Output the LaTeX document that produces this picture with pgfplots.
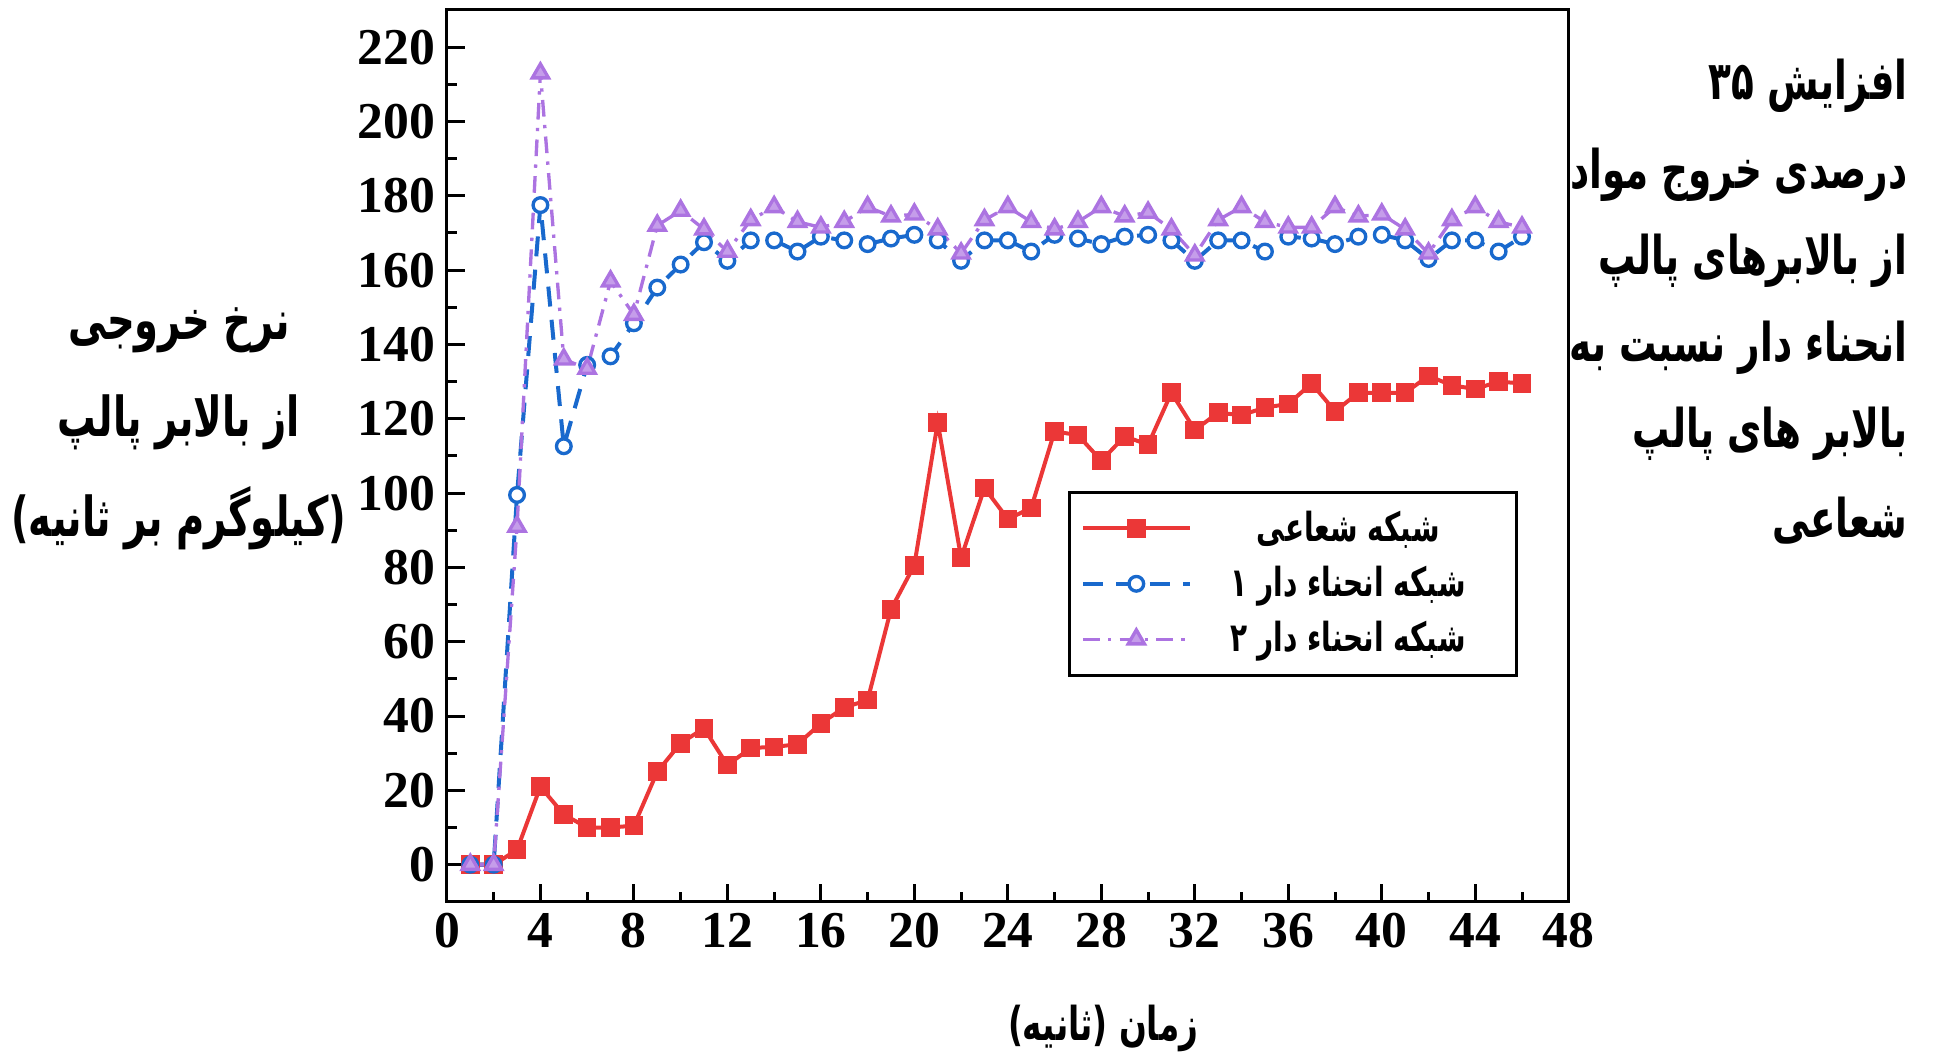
\documentclass[border=0pt]{standalone}
\usepackage{fontspec}
\setmainfont{Liberation Serif}
\usepackage{pgfplots}
\pgfplotsset{compat=1.18}
\TeXXeTstate=1
\newfontfamily\fa[Script=Arabic,FakeStretch=0.7]{DejaVu Sans}
\definecolor{cred}{RGB}{235,55,55}
\definecolor{cblue}{RGB}{25,105,205}
\definecolor{cpurple}{RGB}{172,115,225}
\begin{document}
\begin{tikzpicture}
\useasboundingbox (0,0) rectangle (580pt,318.9pt);
\begin{axis}[
 at={(134.1pt,48.3pt)}, anchor=south west,
 width=336.6pt, height=267.6pt, scale only axis,
 xmin=0,xmax=48,ymin=-10,ymax=230,
 xtick={0,4,...,48}, ytick={0,20,...,220},
 minor xtick={2,6,...,46}, minor ytick={10,30,...,210},
 tick pos=left, tick align=inside,
 major tick length=5.4pt, minor tick length=3pt,
 axis line style={line width=0.9pt},
 every tick/.style={line width=0.9pt, black},
 tick label style={font=\fontsize{15.5}{18}\selectfont\bfseries},
 /pgf/number format/assume math mode=true,
 legend image code/.code={\draw[mark repeat=2,mark phase=2,#1] plot coordinates {(0pt,0pt) (16pt,0pt) (32pt,0pt)};},
 legend style={at={(0.5535,0.4608)}, anchor=north west, draw=black, line width=0.9pt,
   font=\fa\bfseries\fontsize{12}{14}\selectfont, row sep=2pt, inner sep=3.5pt},
]
\addplot[cred, line width=1.2pt, mark=square*, mark size=2.2pt, mark options={solid}] coordinates {
(1,0)(2,0)(3,4)(4,21)(5,13.5)(6,10)(7,10)(8,10.5)(9,25)(10,32.7)(11,36.7)(12,26.8)(13,31.4)(14,31.7)(15,32.4)(16,38)(17,42.3)(18,44.3)(19,68.7)(20,80.6)(21,119)(22,82.6)(23,101.4)(24,93)(25,96)(26,116.6)(27,115.6)(28,108.7)(29,115.3)(30,113)(31,127)(32,117)(33,121.6)(34,121)(35,123)(36,124)(37,129.5)(38,122)(39,127)(40,127)(41,127)(42,131.5)(43,129)(44,128)(45,130)(46,129.5)};
\addlegendentry{\makebox[90pt][c]{\beginR شبکه شعاعی\endR}}
\addplot[cblue, line width=1.2pt, dash pattern=on 6pt off 4pt, mark=*, mark size=2.2pt, mark options={solid, fill=white, draw=cblue, line width=1pt}] coordinates {
(1,0)(2,0)(3,99.5)(4,177.5)(5,112.6)(6,134.5)(7,136.8)(8,145.7)(9,155.3)(10,161.5)(11,167.5)(12,162.5)(13,168)(14,168)(15,165)(16,169)(17,168)(18,167)(19,168.5)(20,169.5)(21,168)(22,162.5)(23,168)(24,168)(25,165)(26,169.5)(27,168.5)(28,167)(29,169)(30,169.5)(31,168)(32,162.5)(33,168)(34,168)(35,165)(36,169)(37,168.5)(38,167)(39,169)(40,169.5)(41,168)(42,163)(43,168)(44,168)(45,165)(46,169)};
\addlegendentry{\makebox[90pt][c]{\beginR شبکه انحناء دار ۱\endR}}
\addplot[cpurple, line width=1pt, dash pattern=on 5pt off 2.5pt on 1pt off 2.5pt, mark=triangle*, mark size=2.8pt, mark options={solid, fill=cpurple!70, draw=cpurple}] coordinates {
(1,0)(2,0)(3,91)(4,213)(5,136)(6,133.5)(7,157)(8,148)(9,172)(10,176)(11,171)(12,165)(13,173.5)(14,177)(15,173)(16,171.5)(17,173)(18,177)(19,174.5)(20,175)(21,171)(22,164.5)(23,173.5)(24,177)(25,173)(26,171)(27,173)(28,177)(29,174.5)(30,175.5)(31,171)(32,164)(33,173.5)(34,177)(35,173)(36,171.5)(37,171.5)(38,177)(39,174.5)(40,175)(41,171)(42,164.5)(43,173.5)(44,177)(45,173)(46,171.5)};
\addlegendentry{\makebox[90pt][c]{\beginR شبکه انحناء دار ۲\endR}}
\end{axis}
\begin{scope}[every node/.style={font=\fa\bfseries\fontsize{16.5}{19}\selectfont, inner sep=0pt}]
\node at (53.7pt,219.9pt) {\beginR نرخ خروجی\endR};
\node at (53.7pt,192.3pt) {\beginR از بالابر پالپ\endR};
\node at (53.7pt,163.5pt) {\beginR (کیلوگرم بر ثانیه)\endR};
\end{scope}
\begin{scope}[every node/.style={font=\fa\bfseries\fontsize{16}{19}\selectfont, inner sep=0pt, anchor=east}]
\node at (572.5pt,293.1pt) {\beginR افزایش ۳۵\endR};
\node at (572.5pt,266.4pt) {\beginR درصدی خروج مواد\endR};
\node at (572.5pt,240.6pt) {\beginR از بالابرهای پالپ\endR};
\node at (572.5pt,214.5pt) {\beginR انحناء دار نسبت به\endR};
\node at (572.5pt,188.7pt) {\beginR بالابر های پالپ\endR};
\node at (572.5pt,162.6pt) {\beginR شعاعی\endR};
\end{scope}
\node[font=\fa\bfseries\fontsize{14}{17}\selectfont, inner sep=0pt] at (331pt,10.2pt) {\beginR زمان (ثانیه)\endR};
\end{tikzpicture}
\end{document}
